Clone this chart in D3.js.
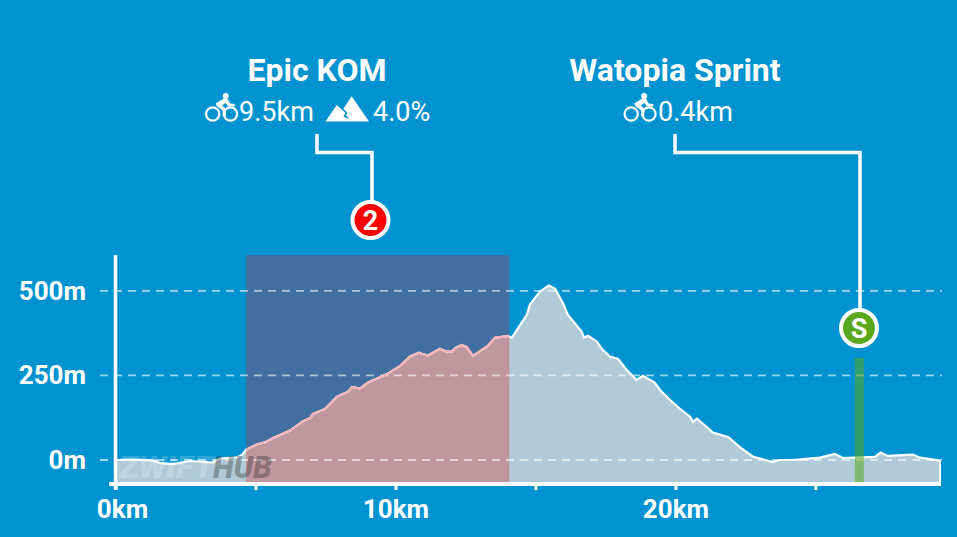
<!DOCTYPE html>
<html>
<head>
<meta charset="utf-8">
<script src="https://cdn.jsdelivr.net/npm/d3@7"></script>
<style>
  html, body { margin: 0; padding: 0; background: #0093d0; overflow: hidden; }
  svg { display: block; font-family: Roboto, sans-serif; }
</style>
</head>
<body>
<svg id="chart" width="957" height="537"></svg>
<script>
// profile
const distKm = [0, 0.63, 1.34, 1.59, 2.05, 2.66, 3.48, 3.73, 4.34, 4.52, 4.66, 5.04, 5.34, 5.63, 6.23, 6.7, 6.95, 7.05, 7.48, 7.91,
  8.3, 8.45, 8.73, 9.02, 9.7, 10.16, 10.52, 10.84, 10.94, 11.16, 11.34, 11.59, 11.77, 12.01, 12.13, 12.36, 12.54, 12.77, 13.02, 13.3,
  13.55, 14.02, 14.15, 14.27, 14.45, 14.69, 14.8, 15.16, 15.48, 15.7, 15.98, 16.16, 16.65, 16.73, 16.88, 17.19, 17.41, 17.66, 17.95, 18.26,
  18.61, 18.84, 19.27, 19.45, 19.8, 20.16, 20.52, 20.63, 20.77, 21.34, 21.88, 22.3, 22.77, 23.48, 23.73, 24.2, 25.16, 25.7, 25.98, 27.13,
  27.33, 27.59, 28.48, 28.73, 29.45];
const elevM = [0, 1, -1, -9, -12, -3, -8, 4, 8, 15, 30, 46, 52, 65, 87, 115, 124, 136, 151, 187,
  202, 216, 211, 229, 254, 278, 306, 317, 314, 309, 317, 329, 322, 320, 331, 340, 334, 308, 322, 337,
  361, 367, 361, 376, 399, 429, 459, 498, 516, 506, 464, 429, 380, 362, 367, 350, 325, 306, 299, 266,
  237, 249, 228, 207, 178, 151, 128, 113, 122, 81, 68, 38, 10, -6, 0, 0, 7, 18, 6, 9,
  22, 12, 16, 7, -2];

const xTicks = [0, 5, 10, 15, 20, 25];
const xLabels = [0, 10, 20];
const yTicks = [0, 250, 500];

// climb and sprint segments
const komRange = [4.66, 14.07];
const sprintRange = [26.41, 26.73];
const sprintTop = 302;

const colors = {
  area: '#b0cbd7', areaKom: '#c1979f', band: '#416f9f',
  line: '#ffffff', lineKom: '#f7b4b6', red: '#fa0000', green: '#5aa81e'
};

const svg = d3.select('#chart');
const points = distKm.map((d, i) => ({ km: d, m: elevM[i] }));

const x = d3.scaleLinear().domain([0, 29.45]).range([115.5, 940]);
const y = d3.scaleLinear().domain([-65, 606]).range([482, 255]);

const area = d3.area().x(d => x(d.km)).y0(y(-65)).y1(d => y(d.m));
const line = d3.line().x(d => x(d.km)).y(d => y(d.m));

svg.append('defs').append('clipPath').attr('id', 'kom')
  .append('rect')
  .attr('x', x(komRange[0])).attr('y', y.range()[1])
  .attr('width', x(komRange[1]) - x(komRange[0]))
  .attr('height', y.range()[0] - y.range()[1]);

// kom band behind the profile
svg.append('rect')
  .attr('x', x(komRange[0])).attr('y', y.range()[1])
  .attr('width', x(komRange[1]) - x(komRange[0]))
  .attr('height', y.range()[0] - y.range()[1])
  .attr('fill', colors.band);

svg.append('path').attr('d', area(points)).attr('fill', colors.area);
svg.append('path').attr('d', area(points)).attr('fill', colors.areaKom).attr('clip-path', 'url(#kom)');

// dashed grid lines
svg.append('g').selectAll('line').data(yTicks).join('line')
  .attr('x1', 100).attr('x2', 942)
  .attr('y1', d => y(d)).attr('y2', d => y(d))
  .attr('stroke', '#fff').attr('stroke-opacity', 0.6)
  .attr('stroke-width', 1.8).attr('stroke-dasharray', '8 6');

svg.append('path').attr('d', line(points)).attr('fill', 'none')
  .attr('stroke', colors.line).attr('stroke-width', 2.2);
svg.append('path').attr('d', line(points)).attr('fill', 'none')
  .attr('stroke', colors.lineKom).attr('stroke-width', 2.2).attr('clip-path', 'url(#kom)');

// watermark
svg.append('text').attr('x', 119).attr('y', 478)
  .attr('font-size', 32).attr('font-weight', 900).attr('font-style', 'italic')
  .attr('textLength', 95).attr('lengthAdjust', 'spacingAndGlyphs')
  .attr('fill', '#fff').attr('fill-opacity', 0.2).text('ZWIFT');
svg.append('text').attr('x', 213).attr('y', 478)
  .attr('font-size', 32).attr('font-weight', 900).attr('font-style', 'italic')
  .attr('textLength', 59).attr('lengthAdjust', 'spacingAndGlyphs')
  .attr('fill', '#333').attr('fill-opacity', 0.38).text('HUB');

// sprint bar, drawn over the profile
svg.append('rect')
  .attr('x', x(sprintRange[0])).attr('y', y(sprintTop))
  .attr('width', x(sprintRange[1]) - x(sprintRange[0]))
  .attr('height', y.range()[0] - y(sprintTop))
  .attr('fill', '#5aa81e').attr('fill-opacity', 0.55);

// right edge of the profile
svg.append('line')
  .attr('x1', 940).attr('x2', 940)
  .attr('y1', y(elevM[elevM.length - 1])).attr('y2', 484)
  .attr('stroke', '#fff').attr('stroke-width', 2);

// axes
const xAxis = svg.append('g').attr('transform', 'translate(0,484)')
  .call(d3.axisBottom(x).tickValues(xTicks).tickSize(6).tickSizeOuter(0)
    .tickFormat(d => xLabels.includes(d) ? d + 'km' : ''));
xAxis.select('.domain').remove();
xAxis.selectAll('.tick line').attr('stroke', '#fff').attr('stroke-width', 3);
xAxis.selectAll('.tick text')
  .attr('fill', '#fff').attr('font-size', 26).attr('font-weight', 700)
  .attr('font-family', 'Roboto, sans-serif')
  .attr('y', 16).attr('dy', '0.71em')
  .attr('dx', d => d === 0 ? 6.5 : 0);

const yAxis = svg.append('g').attr('transform', 'translate(86,0)')
  .call(d3.axisLeft(y).tickValues(yTicks).tickSize(0).tickFormat(d => d + 'm'));
yAxis.select('.domain').remove();
yAxis.selectAll('.tick text')
  .attr('fill', '#fff').attr('font-size', 26).attr('font-weight', 700)
  .attr('font-family', 'Roboto, sans-serif').attr('x', 0);

svg.append('line').attr('x1', 109).attr('x2', 941).attr('y1', 484).attr('y2', 484)
  .attr('stroke', '#fff').attr('stroke-width', 4);
svg.append('line').attr('x1', 115.5).attr('x2', 115.5).attr('y1', 255).attr('y2', 490)
  .attr('stroke', '#fff').attr('stroke-width', 3.5);

// leader lines
const leader = d3.line();
svg.append('path').attr('d', leader([[317, 134], [317, 152.5], [372, 152.5], [372, 205]]))
  .attr('fill', 'none').attr('stroke', '#fff').attr('stroke-width', 3.5);
svg.append('path').attr('d', leader([[675, 134], [675, 152.5], [860, 152.5], [860, 312]]))
  .attr('fill', 'none').attr('stroke', '#fff').attr('stroke-width', 3.5);

function badge(cx, cy, fill, text) {
  svg.append('circle').attr('cx', cx).attr('cy', cy).attr('r', 18)
    .attr('fill', fill).attr('stroke', '#fff').attr('stroke-width', 4);
  svg.append('text').attr('x', cx).attr('y', cy + 9.5).attr('text-anchor', 'middle')
    .attr('fill', '#fff').attr('font-size', 27).attr('font-weight', 700).text(text);
}
badge(370.5, 220, colors.red, '2');
badge(859, 328, colors.green, 'S');

// bike icon, drawn around the left wheel
function bike(tx, ty) {
  const g = svg.append('g').attr('transform', `translate(${tx},${ty})`);
  [0, 17.8].forEach(cx => g.append('circle').attr('cx', cx).attr('cy', 0).attr('r', 6.6)
    .attr('fill', 'none').attr('stroke', '#fff').attr('stroke-width', 2.2));
  g.append('circle').attr('cx', 13).attr('cy', -18).attr('r', 3).attr('fill', '#fff');
  g.append('path').attr('fill', '#fff')
    .attr('d', 'M3,-10.5 L11,-15.5 L15,-15 L17.5,-10.5 L22,-10 L22,-7.5 L15.5,-7.5 L13,-11 L9.5,-8.5 L13.5,-5 L13,2 L10,2 L10,-3.5 L4,-8 Z');
}
bike(212.7, 114);
bike(631.2, 114);

// mountain icon
svg.append('path').attr('fill', '#fff')
  .attr('d', 'M325.5,121.5 L336.7,105 L342.5,110 L351.7,96.2 L369,121.5 Z');
svg.append('path').attr('fill', 'none').attr('stroke', '#0093d0').attr('stroke-width', 1.6)
  .attr('d', 'M342,108.5 L346.5,113 L344.5,116 L348,118');

function label(tx, ty, text, size, weight, anchor) {
  svg.append('text').attr('x', tx).attr('y', ty).attr('text-anchor', anchor)
    .attr('fill', '#fff').attr('font-size', size).attr('font-weight', weight).text(text);
}
label(317, 81, 'Epic KOM', 32, 700, 'middle');
label(675, 81, 'Watopia Sprint', 32, 700, 'middle');
label(239, 121, '9.5km', 27, 400, 'start');
label(373, 121, '4.0%', 27, 400, 'start');
label(658, 121, '0.4km', 27, 400, 'start');
</script>
</body>
</html>
